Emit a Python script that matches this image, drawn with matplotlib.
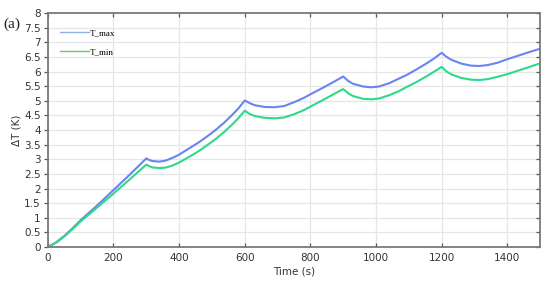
import matplotlib
matplotlib.use("Agg")
import matplotlib.pyplot as plt
import numpy as np

# Time (s)
t_max_time = [0, 25, 50, 75, 100, 150, 200, 250, 300,
              310, 320, 340, 360, 380, 400, 430, 460, 485, 510, 536, 560, 580, 600,
              615, 630, 660, 690, 720, 750, 780, 800, 844, 870, 900,
              915, 930, 960, 985, 1010, 1040, 1070, 1093, 1120, 1150, 1175, 1200,
              1215, 1230, 1260, 1290, 1316, 1340, 1370, 1400, 1430, 1460, 1500]
t_max_vals = [0, 0.16, 0.38, 0.64, 0.92, 1.42, 1.95, 2.48, 3.03,
              2.97, 2.94, 2.92, 2.96, 3.05, 3.16, 3.37, 3.58, 3.78, 3.99, 4.24, 4.50, 4.73, 5.01,
              4.92, 4.85, 4.79, 4.78, 4.82, 4.95, 5.10, 5.22, 5.48, 5.64, 5.83,
              5.68, 5.58, 5.49, 5.46, 5.49, 5.60, 5.76, 5.88, 6.05, 6.25, 6.43, 6.64,
              6.50, 6.40, 6.27, 6.20, 6.19, 6.22, 6.30, 6.42, 6.53, 6.64, 6.78]

t_min_time = t_max_time
t_min_vals = [0, 0.15, 0.36, 0.61, 0.88, 1.35, 1.83, 2.32, 2.82,
              2.76, 2.72, 2.70, 2.72, 2.79, 2.89, 3.08, 3.28, 3.48, 3.68, 3.92, 4.17, 4.40, 4.66,
              4.55, 4.48, 4.42, 4.40, 4.43, 4.54, 4.68, 4.80, 5.06, 5.22, 5.40,
              5.26, 5.16, 5.07, 5.05, 5.08, 5.19, 5.33, 5.47, 5.62, 5.81, 5.98, 6.16,
              6.00, 5.90, 5.78, 5.72, 5.71, 5.74, 5.82, 5.91, 6.02, 6.13, 6.28]

x_ticks = [0, 200, 400, 600, 800, 1000, 1200, 1400]
y_ticks = [0, 0.5, 1, 1.5, 2, 2.5, 3, 3.5, 4, 4.5, 5, 5.5, 6, 6.5, 7, 7.5, 8]
y_labels = ["0", "0.5", "1", "1.5", "2", "2.5", "3", "3.5", "4", "4.5", "5",
            "5.5", "6", "6.5", "7", "7.5", "8"]

fig = plt.figure(figsize=(5.5, 2.89), dpi=100)
ax = fig.add_axes([0.087, 0.145, 0.895, 0.81])

ax.plot(t_max_time, t_max_vals, color="#6a84f0", lw=1.5, label="T_max")
ax.plot(t_min_time, t_min_vals, color="#2fd98a", lw=1.5, label="T_min")

ax.set_xlim(0, 1500)
ax.set_ylim(0, 8)
ax.set_xticks(x_ticks)
ax.set_yticks(y_ticks)
ax.set_yticklabels(y_labels)
ax.grid(True, color="#e6e6e6", lw=0.9)
ax.set_axisbelow(True)

for s in ax.spines.values():
    s.set_color("#7a7a7a")
    s.set_linewidth(1.3)

ax.tick_params(axis="both", labelsize=7.5, colors="#555555", labelcolor="#333333",
               length=3, width=0.9)
ax.tick_params(axis="y", direction="out", right=True, pad=2)
ax.tick_params(axis="x", direction="in", top=True, pad=4)
for tl in ax.yaxis.get_ticklines()[1::2]:
    tl.set_marker(0)

ax.set_xlabel("Time (s)", fontsize=7.5, color="#333333", labelpad=3)
ax.set_ylabel("ΔT (K)", fontsize=7.5, color="#333333", labelpad=2)

leg = ax.legend(loc="upper left", frameon=False, handlelength=3.2,
                prop={"family": "Liberation Serif", "size": 6.5},
                bbox_to_anchor=(0.008, 0.965), labelspacing=1.15, handletextpad=0.1)
for h in leg.get_lines():
    h.set_linewidth(1.0)
leg.get_lines()[0].set_color("#8fb0ea")
leg.get_lines()[1].set_color("#58cf6a")

fig.text(0.006, 0.905, "(a)", fontsize=11, family="Liberation Serif",
         color="#222222", va="baseline",
         bbox=dict(facecolor="white", edgecolor="none", pad=0.5))

fig.savefig("out.png", dpi=100)
